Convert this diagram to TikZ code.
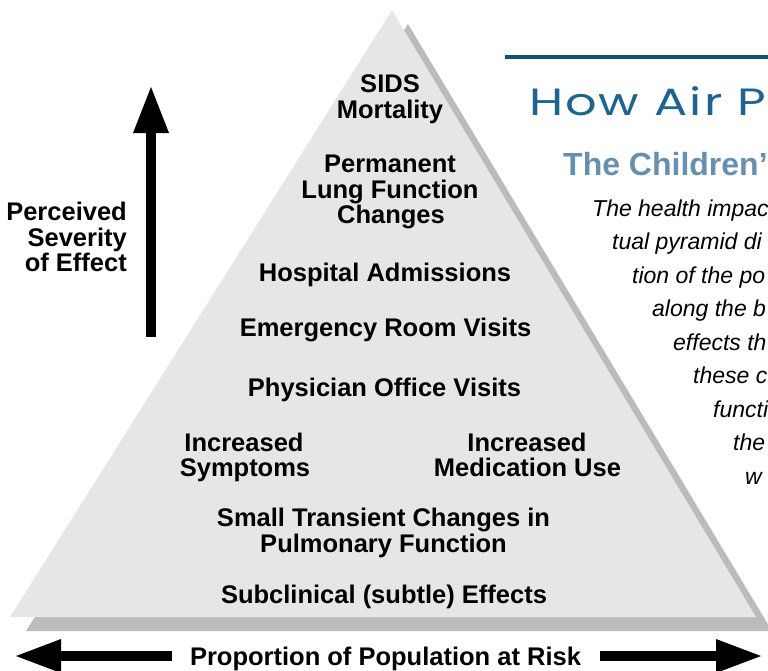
\documentclass[tikz,border=0pt]{standalone}
\usepackage{graphicx}
\usepackage{fontspec}
\setmainfont{Liberation Sans}
\newfontfamily\titlefont[LetterSpace=4]{Poppins}
\usetikzlibrary{arrows.meta}
\definecolor{pyrlight}{RGB}{230,230,230}
\definecolor{pyrshadow}{RGB}{187,187,187}
\definecolor{ruleblue}{RGB}{12,84,118}
\definecolor{titleblue}{RGB}{30,100,140}
\definecolor{subblue}{RGB}{103,143,176}
\begin{document}
\begin{tikzpicture}[x=1pt,y=-1pt,
  lbl/.style={inner sep=0pt, anchor=base, font=\bfseries\fontsize{25.5}{26}\selectfont},
  sidelbl/.style={inner sep=0pt, anchor=base east, font=\bfseries\fontsize{25.5}{26}\selectfont},
  ital/.style={inner sep=0pt, anchor=base west, font=\itshape\fontsize{23}{23}\selectfont},
  bigarrow/.style={line width=10pt, -{Triangle[length=46pt,width=36pt,line width=0pt]}},
  sidearrow/.style={line width=10pt, -{Triangle[length=45pt,width=34pt,line width=0pt]}}]
\useasboundingbox (0,0) rectangle (768,670);
% pyramid
\fill[pyrshadow] (408,24) -- (26,631) -- (772,631) -- cycle;
\fill[pyrlight] (392,10) -- (10,617) -- (756,617) -- cycle;
% title block
\coordinate (rl) at (505,57);
\coordinate (rr) at (770,57);
\draw[ruleblue, line width=4.5pt] (rl) -- (rr);
\node[inner sep=0pt, anchor=base west, text=titleblue, font=\titlefont\fontsize{38}{38}\selectfont] (title) at (529,115) {\scalebox{1.3}[1]{How Air P}};
\node[inner sep=0pt, anchor=base west, text=subblue, font=\bfseries\fontsize{32}{32}\selectfont] (sub) at (563,175) {The Children’};
\node[ital] (p1) at (592,216) {The health impac};
\node[ital] (p2) at (612,249) {tual pyramid di};
\node[ital] (p3) at (632,283) {tion of the po};
\node[ital] (p4) at (652,316) {along the b};
\node[ital] (p5) at (673,350) {effects th};
\node[ital] (p6) at (693,383) {these c};
\node[ital] (p7) at (713,417) {functi};
\node[ital] (p8) at (733,450) {the};
\node[ital] (p9) at (745,484) {w};
% pyramid labels
\node[lbl] (sids1) at (390,92) {SIDS};
\node[lbl] (sids2) at (390,118) {Mortality};
\node[lbl] (perm1) at (390,172) {Permanent};
\node[lbl] (perm2) at (390,198) {Lung Function};
\node[lbl] (perm3) at (391,223) {Changes};
\node[lbl] (hosp) at (385,281) {Hospital Admissions};
\node[lbl] (emer) at (385.5,336) {Emergency Room Visits};
\node[lbl] (phys) at (384.5,396) {Physician Office Visits};
\node[lbl] (sym1) at (244,451) {Increased};
\node[lbl] (sym2) at (245,476) {Symptoms};
\node[lbl] (med1) at (527,451) {Increased};
\node[lbl] (med2) at (527.5,476) {Medication Use};
\node[lbl] (small1) at (383.5,526) {Small Transient Changes in};
\node[lbl] (small2) at (383.5,552) {Pulmonary Function};
\node[lbl] (subc) at (384,603) {Subclinical (subtle) Effects};
% axes
\node[lbl] (prop) at (385.5,665) {Proportion of Population at Risk};
\node[sidelbl] (sev1) at (127,220) {Perceived};
\node[sidelbl] (sev2) at (127,246) {Severity};
\node[sidelbl] (sev3) at (127,271) {of Effect};
\coordinate (vs) at (151,337);
\coordinate (vt) at (151,87);
\draw[bigarrow] (vs) -- (vt);
\coordinate (ls) at (172,656);
\coordinate (lt) at (16,656);
\draw[sidearrow] (ls) -- (lt);
\coordinate (rs) at (600,656);
\coordinate (rt) at (761,656);
\draw[sidearrow] (rs) -- (rt);
\end{tikzpicture}
\end{document}
